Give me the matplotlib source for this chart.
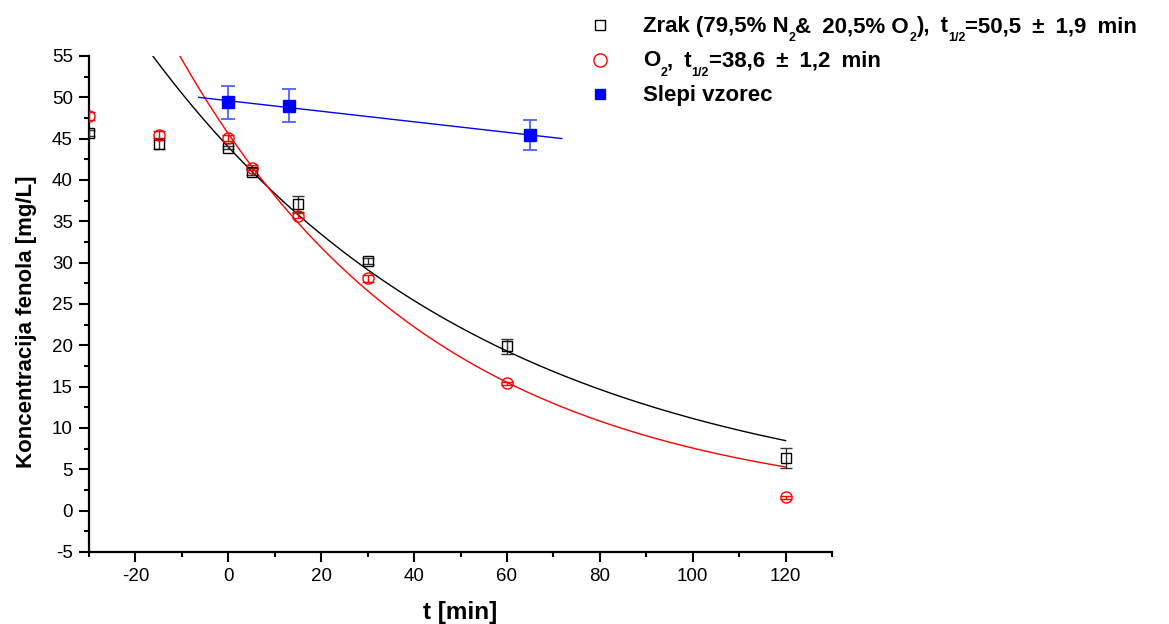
import numpy as np
import matplotlib
matplotlib.use("Agg")
import matplotlib.pyplot as plt
from matplotlib.lines import Line2D
from matplotlib.ticker import MultipleLocator

plt.rcParams['font.family'] = ['Liberation Sans', 'DejaVu Sans']
plt.rcParams['axes.unicode_minus'] = False

# --- data ---
t_zrak = [-30, -15, 0, 5, 15, 30, 60, 120]
c_zrak = [45.7, 44.3, 43.9, 41.0, 37.1, 30.2, 19.9, 6.4]
e_zrak = [0.4, 0.5, 0.2, 0.4, 0.95, 0.35, 0.9, 1.2]

t_o2 = [-30, -15, 0, 5, 15, 30, 60, 120]
c_o2 = [47.7, 45.5, 45.1, 41.5, 35.7, 28.1, 15.4, 1.6]
e_o2 = [0.5, 0.4, 0.4, 0.3, 0.3, 0.4, 0.2, 0.2]

t_slepi = [0, 13, 65]
c_slepi = [49.4, 49.0, 45.4]
e_slepi = [2.0, 1.95, 1.8]

# fitted first-order decay model parameters
half_zrak = 50.5
c0_zrak = 44.0
half_o2 = 38.6
c0_o2 = 45.6
fit_range = (-30, 120)
blank_fit_range = (-6.4, 71.8)

SP = '\u2002'
# legend labels as (text, is_subscript) pieces
label_zrak = [('Zrak (79,5% N', False), ('2', True), ('&' + SP + '20,5% O', False), ('2', True),
              ('),' + SP + 't', False), ('1/2', True), ('=50,5' + SP + '±' + SP + '1,9' + SP + 'min', False)]
label_o2 = [('O', False), ('2', True), (',' + SP + 't', False), ('1/2', True),
            ('=38,6' + SP + '±' + SP + '1,2' + SP + 'min', False)]
label_slepi = [('Slepi vzorec', False)]

W, H = 1169, 624
fig = plt.figure(figsize=(W / 100, H / 100), dpi=100)
ax = fig.add_axes([89 / W, 1 - 552 / H, (832 - 89) / W, (552 - 56) / H])

tt = np.linspace(fit_range[0], fit_range[1], 400)
ax.plot(tt, c0_zrak * 2 ** (-tt / half_zrak), color='black', lw=1.0, zorder=2)
ax.plot(tt, c0_o2 * 2 ** (-tt / half_o2), color='red', lw=1.0, zorder=2)

p = np.polyfit(t_slepi, c_slepi, 1)
tb = np.array(blank_fit_range)
ax.plot(tb, np.polyval(p, tb), color='blue', lw=1.0, zorder=2)

ax.errorbar(t_zrak, c_zrak, yerr=e_zrak, fmt='s', ms=7.5, mfc='none', mec='black',
            mew=1.0, ecolor='#333333', elinewidth=1.0, capsize=4, capthick=1.0, zorder=3)
ax.errorbar(t_o2, c_o2, yerr=e_o2, fmt='o', ms=8, mfc='none', mec='red',
            mew=1.0, ecolor='red', elinewidth=1.0, capsize=4, capthick=1.0, zorder=3)
ax.errorbar(t_slepi, c_slepi, yerr=e_slepi, fmt='s', ms=8, mfc='blue', mec='blue',
            ecolor='#5060ff', elinewidth=1.3, capsize=5, capthick=1.3, zorder=3)

ax.set_xlim(-30, 130)
ax.set_ylim(-5, 55)
ax.set_xticks([-20, 0, 20, 40, 60, 80, 100, 120])
ax.set_yticks(np.arange(-5, 56, 5))
ax.xaxis.set_minor_locator(MultipleLocator(10))
ax.yaxis.set_minor_locator(MultipleLocator(2.5))

for s in ['top', 'right']:
    ax.spines[s].set_visible(False)
for s in ['left', 'bottom']:
    ax.spines[s].set_linewidth(1.6)
ax.tick_params(which='major', direction='out', length=7.2, width=1.5, labelsize=13.5, pad=4.5)
ax.tick_params(which='minor', direction='out', length=3.6, width=1.5)

ax.set_xlabel('t [min]', fontsize=17.5, fontweight='bold')
ax.set_ylabel('Koncentracija fenola [mg/L]', fontsize=16, fontweight='bold')
ax.xaxis.set_label_coords((460 - 89) / 743, (552 - 601) / 496)
ax.yaxis.set_label_coords((37 - 89) / 743, (552 - 322) / 496)

# --- legend (drawn piecewise so subscripts sit low as in the original) ---
renderer = fig.canvas.get_renderer()


def rich_line(x, y_base, pieces, size=16, sub_size=9, sub_drop=9, gap=0.0):
    for txt, sub in pieces:
        if sub:
            x += gap
        t = fig.text(x / W, 1 - (y_base + (sub_drop if sub else 0)) / H, txt,
                     fontsize=sub_size if sub else size, fontweight='bold',
                     ha='left', va='baseline')
        x += t.get_window_extent(renderer).width
        if sub:
            x += gap


legend_rows = [
    (label_zrak, dict(marker='s', ms=7.5, mfc='none', mec='black', mew=1.0)),
    (label_o2, dict(marker='o', ms=9.5, mfc='none', mec='red', mew=1.0)),
    (label_slepi, dict(marker='s', ms=7.5, mfc='blue', mec='blue', mew=1.0)),
]
for i, (pieces, mk) in enumerate(legend_rows):
    yb = 32 + 34.5 * i
    fig.add_artist(Line2D([600 / W], [1 - (yb - 7) / H], ls='none',
                          transform=fig.transFigure, **mk))
    rich_line(643, yb, pieces)

fig.savefig('out.png', dpi=100)
